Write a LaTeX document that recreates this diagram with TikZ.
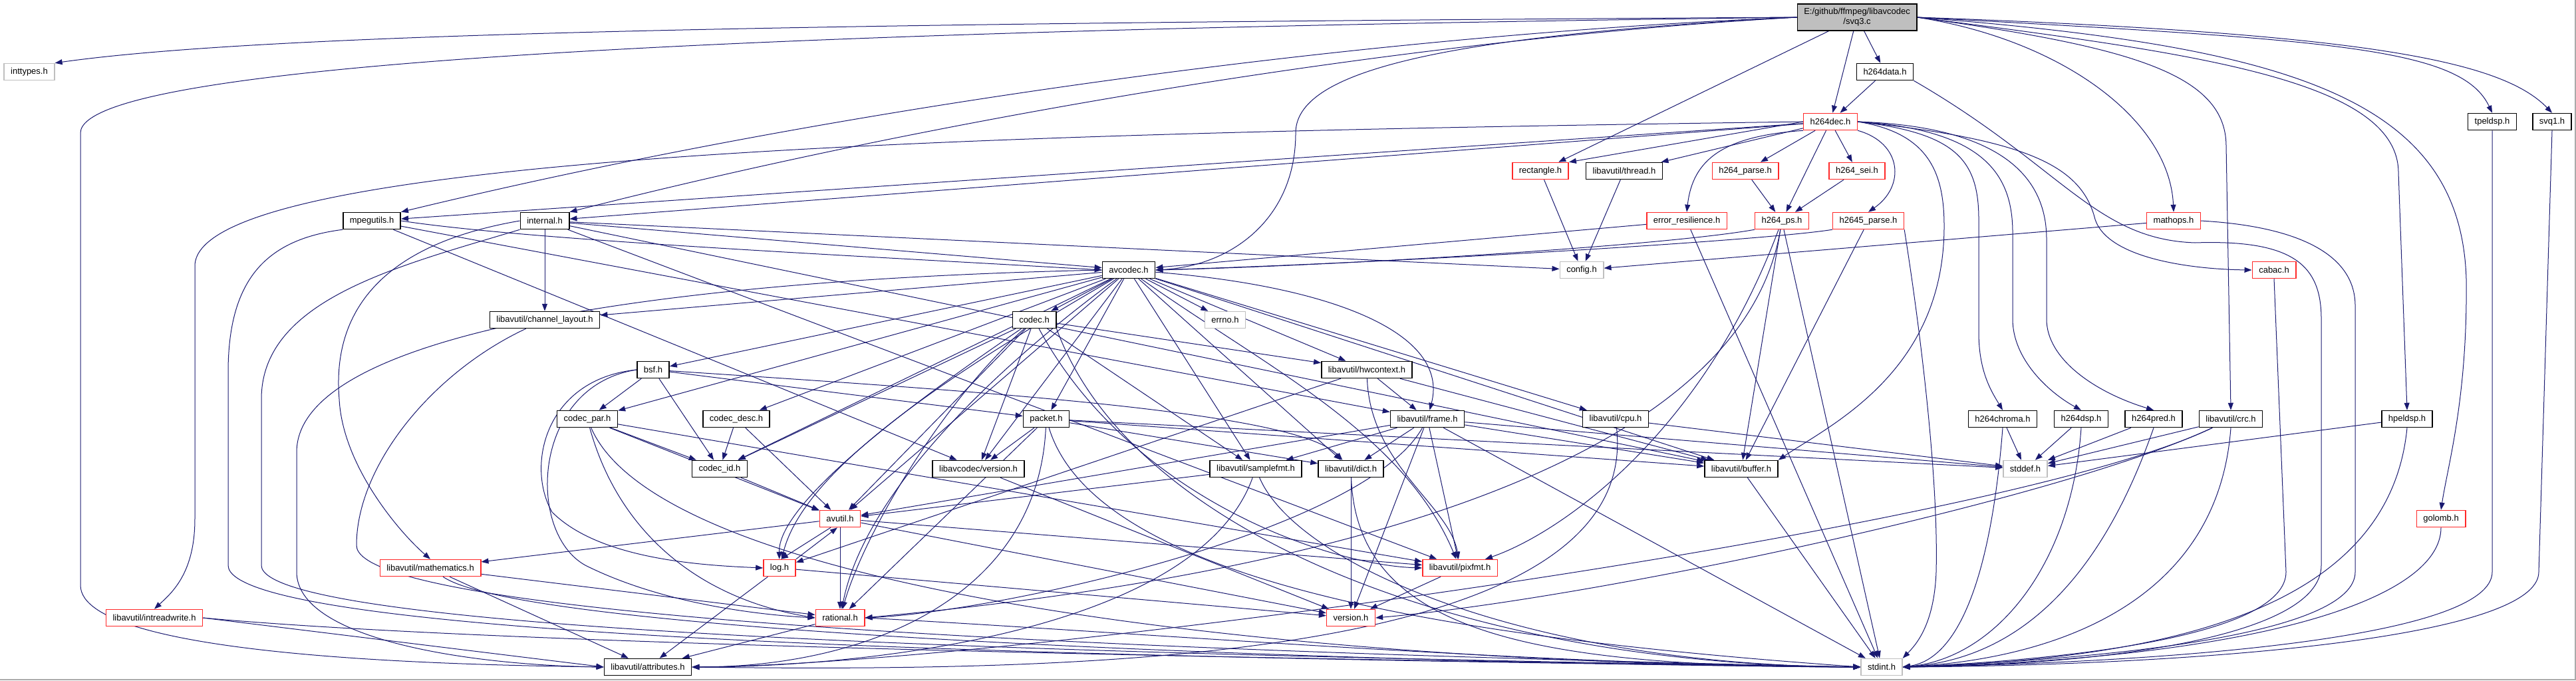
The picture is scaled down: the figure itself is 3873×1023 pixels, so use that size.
\documentclass[tikz,border=0pt]{standalone}
\usepackage{fontspec}
\setmainfont{Liberation Sans}
\usetikzlibrary{arrows.meta, positioning, backgrounds}
\definecolor{edgeblue}{RGB}{25,25,112}
\definecolor{boxgrey}{RGB}{191,191,191}
\definecolor{truncred}{RGB}{255,40,40}
\definecolor{framegrey}{RGB}{170,170,170}

\tikzset{
  filebox/.style={draw=black, line width=1.5pt, fill=white, inner xsep=10pt, inner ysep=0pt,
    minimum height=25pt, font=\fontsize{13}{15}\selectfont},
  truncbox/.style={filebox, draw=truncred},
  sysbox/.style={filebox, draw=boxgrey},
  mainbox/.style={filebox, fill=boxgrey, minimum height=40pt, align=center},
  incl/.style={draw=edgeblue, line width=1pt, -{Triangle[length=11pt,width=8pt]}}
}

\begin{document}
\begin{tikzpicture}[x=1pt, y=-1pt]
    \useasboundingbox (0,0) rectangle (3873,1023);
    \draw[framegrey, line width=2pt] (0,1022) -- (3872,1022) -- (3872,0);

    % Source file
    \node[mainbox] (main) at (2792,26) {E:/github/ffmpeg/libavcodec\\/svq3.c};

    % libavcodec headers
    \node[sysbox] (inttypes) at (44,108) {inttypes.h};
    \node[filebox] (hdata) at (2834,108) {h264data.h};
    \node[truncbox] (hdec) at (2752,183) {h264dec.h};
    \node[filebox] (tpeldsp) at (3747,183) {tpeldsp.h};
    \node[filebox] (svq1) at (3837,183) {svq1.h};
    \node[truncbox] (rectangle) at (2316,257) {rectangle.h};
    \node[filebox] (thread) at (2442,257) {libavutil/thread.h};
    \node[truncbox] (hparse) at (2624,257) {h264\_parse.h};
    \node[truncbox] (hsei) at (2792,257) {h264\_sei.h};
    \node[filebox] (mpegutils) at (559,332) {mpegutils.h};
    \node[filebox] (internal) at (819,332) {internal.h};
    \node[truncbox] (errres) at (2536,332) {error\_resilience.h};
    \node[truncbox] (hps) at (2679,332) {h264\_ps.h};
    \node[truncbox] (hevcparse) at (2809,332) {h2645\_parse.h};
    \node[truncbox] (mathops) at (3268,332) {mathops.h};
    \node[filebox] (avcodec) at (1697,406) {avcodec.h};
    \node[sysbox] (config) at (2378,406) {config.h};
    \node[truncbox] (cabac) at (3419,406) {cabac.h};
    \node[filebox] (chlayout) at (819,481) {libavutil/channel\_layout.h};
    \node[filebox] (codec) at (1555,481) {codec.h};
    \node[sysbox] (errno) at (1842,481) {errno.h};
    \node[filebox] (bsf) at (982,556) {bsf.h};
    \node[filebox] (hwcontext) at (2055,556) {libavutil/hwcontext.h};
    \node[filebox] (codecpar) at (883,630) {codec\_par.h};
    \node[filebox] (codecdesc) at (1107,630) {codec\_desc.h};
    \node[filebox] (packet) at (1573,630) {packet.h};
    \node[filebox] (frame) at (2146,630) {libavutil/frame.h};
    \node[filebox] (cpu) at (2429,630) {libavutil/cpu.h};
    \node[filebox] (hchroma) at (3011,630) {h264chroma.h};
    \node[filebox] (hdsp) at (3129,630) {h264dsp.h};
    \node[filebox] (hpred) at (3238,630) {h264pred.h};
    \node[filebox] (crc) at (3354,630) {libavutil/crc.h};
    \node[filebox] (hpeldsp) at (3619,630) {hpeldsp.h};
    \node[filebox] (codecid) at (1082,705) {codec\_id.h};
    \node[filebox] (lcversion) at (1471,705) {libavcodec/version.h};
    \node[filebox] (samplefmt) at (1888,705) {libavutil/samplefmt.h};
    \node[filebox] (dict) at (2031,705) {libavutil/dict.h};
    \node[filebox] (buffer) at (2618,705) {libavutil/buffer.h};
    \node[sysbox] (stddef) at (3045,705) {stddef.h};

    % libavutil headers
    \node[truncbox] (avutil) at (1263,780) {avutil.h};
    \node[truncbox] (golomb) at (3670,780) {golomb.h};
    \node[truncbox] (mathematics) at (647,854) {libavutil/mathematics.h};
    \node[truncbox] (log) at (1172,854) {log.h};
    \node[truncbox] (pixfmt) at (2195,854) {libavutil/pixfmt.h};
    \node[truncbox] (intreadwrite) at (232,929) {libavutil/intreadwrite.h};
    \node[truncbox] (rational) at (1263,929) {rational.h};
    \node[truncbox] (version) at (2031,929) {version.h};
    \node[filebox] (attributes) at (974,1003) {libavutil/attributes.h};
    \node[sysbox] (stdint) at (2829,1003) {stdint.h};

    \begin{scope}[on background layer]
    % svq3.c
    \draw[incl] (main.west) .. controls (1200,35) and (400,50) .. (inttypes.north east);
    \draw[incl] (main.west) .. controls (1200,45) and (121,90) .. (121,200) -- (121,880) .. controls (121,990) and (700,1000) .. (attributes.west);
    \draw[incl] (main.west) .. controls (2100,50) and (1300,150) .. (mpegutils.north east);
    \draw[incl] (main.west) .. controls (2100,60) and (1400,180) .. (internal.north east);
    \draw[incl] (main.west) .. controls (2150,55) and (1948,110) .. (1948,200) .. controls (1948,330) and (1850,400) .. (avcodec.east);
    \draw[incl] (main) -- (rectangle);
    \draw[incl] (main) -- (hdec);
    \draw[incl] (main) -- (hdata);
    \draw[incl] (main.east) .. controls (3100,60) and (3262,180) .. (mathops.north);
    \draw[incl] (main.east) .. controls (3200,70) and (3347,110) .. (3347,220) -- (crc.north);
    \draw[incl] (main.east) .. controls (3300,80) and (3606,120) .. (3606,260) -- (hpeldsp.north);
    \draw[incl] (main.east) .. controls (3450,70) and (3700,150) .. (3708,420) .. controls (3710,600) and (3680,700) .. (golomb.north);
    \draw[incl] (main.east) .. controls (3500,60) and (3700,70) .. (tpeldsp.north);
    \draw[incl] (main.east) .. controls (3550,50) and (3760,90) .. (svq1.north);

    % h264data.h, h264dec.h
    \draw[incl] (hdata) -- (hdec);
    \draw[incl] (hdata.south east) .. controls (3100,250) and (3150,360) .. (3300,365) .. controls (3450,360) and (3490,400) .. (3490,480) -- (3490,850) .. controls (3490,960) and (3150,1000) .. (stdint.east);
    \draw[incl] (hdec.west) .. controls (1500,200) and (293,230) .. (293,400) -- (293,780) .. controls (293,860) and (260,890) .. (intreadwrite.north);
    \draw[incl] (hdec) -- (mpegutils);
    \draw[incl] (hdec) -- (internal);
    \draw[incl] (hdec.west) -- (rectangle.north east);
    \draw[incl] (hdec) -- (thread);
    \draw[incl] (hdec.south west) .. controls (2590,205) and (2545,240) .. (errres.north);
    \draw[incl] (hdec) -- (hparse);
    \draw[incl] (hdec) -- (hps);
    \draw[incl] (hdec) -- (hsei);
    \draw[incl] (hdec.south east) .. controls (2860,215) and (2865,280) .. (hevcparse.north);
    \draw[incl] (hdec.east) .. controls (2940,200) and (2975,240) .. (2975,330) -- (2975,500) .. controls (2975,560) and (2995,590) .. (hchroma.north);
    \draw[incl] (hdec.east) .. controls (2980,195) and (3026,260) .. (3026,350) -- (3026,480) .. controls (3026,540) and (3080,590) .. (hdsp.north);
    \draw[incl] (hdec.east) .. controls (3000,190) and (3077,260) .. (3077,360) -- (3077,480) .. controls (3077,540) and (3150,590) .. (hpred.north);
    \draw[incl] (hdec.east) .. controls (3050,210) and (3130,250) .. (3150,330) .. controls (3170,390) and (3300,405) .. (cabac.west);
    \draw[incl] (hdec.east) .. controls (2900,200) and (2923,260) .. (2923,340) .. controls (2923,560) and (2750,640) .. (buffer.north east);

    % h264 parsing headers
    \draw[incl] (hparse) -- (hps);
    \draw[incl] (hsei) -- (hps);
    \draw[incl] (errres) -- (avcodec);
    \draw[incl] (errres) -- (stdint);
    \draw[incl] (hps.south west) .. controls (2500,370) and (2000,400) .. (avcodec.east);
    \draw[incl] (hps) -- (buffer);
    \draw[incl] (hps) .. controls (2560,650) and (2350,800) .. (pixfmt);
    \draw[incl] (hps) .. controls (2600,800) and (1600,900) .. (rational.east);
    \draw[incl] (hps) -- (stdint);
    \draw[incl] (hevcparse.south west) .. controls (2650,362) and (2100,395) .. (avcodec.east);
    \draw[incl] (hevcparse) -- (buffer);
    \draw[incl] (hevcparse.south east) .. controls (2880,450) and (2915,700) .. (2911,860) .. controls (2908,940) and (2880,970) .. (stdint.north east);
    \draw[incl] (rectangle) -- (config);
    \draw[incl] (thread) -- (config);
    \draw[incl] (mathops) -- (config);
    \draw[incl] (mathops.east) .. controls (3450,340) and (3541,380) .. (3541,460) -- (3541,860) .. controls (3541,950) and (3200,990) .. (stdint.east);
    \draw[incl] (cabac.south) -- (3437,860) .. controls (3437,950) and (3150,990) .. (stdint.east);

    % DSP headers
    \draw[incl] (hchroma) -- (stddef);
    \draw[incl] (hdsp) -- (stddef);
    \draw[incl] (hpred) -- (stddef);
    \draw[incl] (crc) -- (stddef);
    \draw[incl] (hpeldsp) -- (stddef);
    \draw[incl] (hchroma.south) .. controls (2995,850) and (2950,990) .. (stdint.east);
    \draw[incl] (hdsp.south) .. controls (3115,850) and (3000,990) .. (stdint.east);
    \draw[incl] (hpred.south) .. controls (3166,850) and (3050,990) .. (stdint.east);
    \draw[incl] (crc.south) .. controls (3335,900) and (3100,990) .. (stdint.east);
    \draw[incl] (hpeldsp.south) .. controls (3594,900) and (3300,990) .. (stdint.east);
    \draw[incl] (golomb.south) .. controls (3670,900) and (3400,990) .. (stdint.east);
    \draw[incl] (tpeldsp.south) -- (3747,860) .. controls (3747,955) and (3300,995) .. (stdint.east);
    \draw[incl] (svq1.south) -- (3817,860) .. controls (3817,960) and (3300,1000) .. (stdint.east);
    \draw[incl] (crc) .. controls (3100,750) and (2400,900) .. (version.east);
    \draw[incl] (crc) .. controls (3000,800) and (1500,1000) .. (attributes.east);

    % mpegutils.h, internal.h
    \draw[incl] (mpegutils.east) .. controls (800,362) and (1300,385) .. (avcodec.west);
    \draw[incl] (mpegutils) -- (frame);
    \draw[incl] (mpegutils) -- (lcversion);
    \draw[incl] (mpegutils.south west) .. controls (400,360) and (343,420) .. (343,560) -- (343,850) .. controls (343,960) and (1600,990) .. (stdint.west);
    \draw[incl] (internal) -- (avcodec);
    \draw[incl] (internal) -- (config);
    \draw[incl] (internal) -- (chlayout);
    \draw[incl] (internal.west) .. controls (560,370) and (500,480) .. (510,600) .. controls (515,700) and (600,800) .. (mathematics.north);
    \draw[incl] (internal) -- (buffer);
    \draw[incl] (internal) -- (pixfmt);
    \draw[incl] (internal.south west) .. controls (600,400) and (393,450) .. (393,600) -- (393,850) .. controls (393,950) and (1600,985) .. (stdint.west);
    \draw[incl] (chlayout) .. controls (650,560) and (536,700) .. (536,820) .. controls (536,930) and (1700,980) .. (stdint.west);

    % avcodec.h
    \draw[incl] (avcodec) -- (errno);
    \draw[incl] (avcodec) -- (codec);
    \draw[incl] (avcodec) -- (bsf);
    \draw[incl] (avcodec) -- (codecpar);
    \draw[incl] (avcodec) -- (codecdesc);
    \draw[incl] (avcodec) -- (codecid);
    \draw[incl] (avcodec) -- (packet);
    \draw[incl] (avcodec) -- (lcversion);
    \draw[incl] (avcodec) -- (chlayout);
    \draw[incl] (avcodec) -- (samplefmt);
    \draw[incl] (avcodec) -- (hwcontext);
    \draw[incl] (avcodec) -- (dict);
    \draw[incl] (avcodec) -- (cpu);
    \draw[incl] (avcodec) -- (buffer);
    \draw[incl] (avcodec) -- (avutil);
    \draw[incl] (avcodec) .. controls (2000,430) and (2180,500) .. (frame);
    \draw[incl] (avcodec) .. controls (1900,550) and (2110,650) .. (pixfmt);
    \draw[incl] (avcodec) .. controls (1450,550) and (1210,700) .. (log);
    \draw[incl] (avcodec) .. controls (1500,550) and (1300,740) .. (rational);
    \draw[incl] (avcodec.west) .. controls (1000,420) and (446,500) .. (446,680) -- (446,860) .. controls (446,960) and (700,1000) .. (attributes.west);

    % codec.h, bsf.h and friends
    \draw[incl] (codec) -- (avutil);
    \draw[incl] (codec) -- (hwcontext);
    \draw[incl] (codec) .. controls (1350,620) and (1170,760) .. (log);
    \draw[incl] (codec) .. controls (1700,750) and (2000,850) .. (pixfmt.west);
    \draw[incl] (codec) .. controls (1420,600) and (1300,800) .. (rational);
    \draw[incl] (codec) -- (samplefmt);
    \draw[incl] (codec) -- (codecid);
    \draw[incl] (codec) -- (lcversion);
    \draw[incl] (codec.south east) .. controls (1700,800) and (2200,1000) .. (stdint.west);
    \draw[incl] (bsf) .. controls (1500,590) and (1950,620) .. (dict);
    \draw[incl] (bsf.west) .. controls (820,570) and (790,700) .. (830,770) .. controls (900,840) and (1050,850) .. (log.west);
    \draw[incl] (bsf.west) .. controls (800,580) and (790,800) .. (880,850) .. controls (1000,910) and (1150,925) .. (rational.west);
    \draw[incl] (bsf) -- (codecid);
    \draw[incl] (bsf) -- (codecpar);
    \draw[incl] (bsf) -- (packet);
    \draw[incl] (codecpar) -- (avutil);
    \draw[incl] (codecpar) .. controls (930,800) and (1050,900) .. (rational.west);
    \draw[incl] (codecpar) -- (pixfmt);
    \draw[incl] (codecpar) -- (codecid);
    \draw[incl] (codecpar) .. controls (1000,900) and (2000,1000) .. (stdint.west);
    \draw[incl] (codecdesc) -- (avutil);
    \draw[incl] (codecdesc) -- (codecid);
    \draw[incl] (codecid) -- (avutil);
    \draw[incl] (packet) -- (stddef);
    \draw[incl] (packet) .. controls (1650,880) and (2200,960) .. (stdint.west);
    \draw[incl] (packet) .. controls (1560,900) and (1300,1003) .. (attributes.east);
    \draw[incl] (packet) -- (buffer);
    \draw[incl] (packet) -- (dict);
    \draw[incl] (packet) -- (rational);
    \draw[incl] (packet) -- (lcversion);
    \draw[incl] (lcversion) -- (version);

    % libavutil
    \draw[incl] (hwcontext) -- (buffer);
    \draw[incl] (hwcontext) -- (frame);
    \draw[incl] (hwcontext) -- (log);
    \draw[incl] (hwcontext) .. controls (2060,700) and (2180,760) .. (pixfmt);
    \draw[incl] (frame) -- (stddef);
    \draw[incl] (frame) -- (stdint);
    \draw[incl] (frame) -- (avutil);
    \draw[incl] (frame) -- (buffer);
    \draw[incl] (frame) -- (dict);
    \draw[incl] (frame) .. controls (2050,800) and (1500,920) .. (rational.east);
    \draw[incl] (frame) -- (samplefmt);
    \draw[incl] (frame) -- (pixfmt);
    \draw[incl] (frame) -- (version);
    \draw[incl] (samplefmt) .. controls (1950,850) and (2300,1000) .. (stdint.west);
    \draw[incl] (samplefmt) -- (avutil);
    \draw[incl] (samplefmt) .. controls (1800,950) and (1300,1003) .. (attributes.east);
    \draw[incl] (dict) .. controls (2040,950) and (2300,1003) .. (stdint.west);
    \draw[incl] (dict) -- (version);
    \draw[incl] (buffer) -- (stdint);
    \draw[incl] (cpu) -- (stddef);
    \draw[incl] (cpu) .. controls (2470,1000) and (1600,1010) .. (attributes.east);
    \draw[incl] (avutil) -- (rational);
    \draw[incl] (avutil) -- (version);
    \draw[incl] (avutil) -- (mathematics);
    \draw[incl] (avutil) -- (pixfmt);
    \draw[incl] ([xshift=-14pt]avutil.south) -- ([xshift=2pt]log.north);
    \draw[incl] (log.north east) -- ([xshift=-4pt]avutil.south);
    \draw[incl] (log) -- (attributes);
    \draw[incl] (log) -- (version);
    \draw[incl] (rational) -- (attributes);
    \draw[incl] (rational.east) .. controls (1700,950) and (2300,1000) .. (stdint.west);
    \draw[incl] (mathematics) -- (attributes);
    \draw[incl] (mathematics) -- (rational);
    \draw[incl] (mathematics) .. controls (800,960) and (2200,1000) .. (stdint.west);
    \draw[incl] (pixfmt) -- (version);
    \draw[incl] (intreadwrite.east) -- (attributes.west);
    \draw[incl] (intreadwrite.east) .. controls (800,975) and (2200,995) .. (stdint.west);
    \end{scope}
\end{tikzpicture}
\end{document}
